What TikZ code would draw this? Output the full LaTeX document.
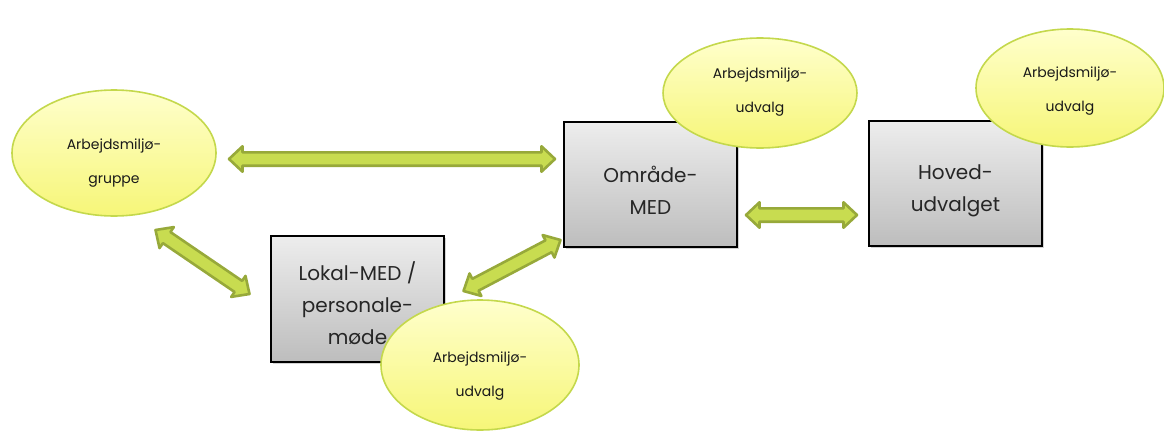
\documentclass[tikz,border=0pt]{standalone}
\usepackage{fontspec}
\setmainfont{Poppins}
\usetikzlibrary{shapes.geometric,shadows,calc}
\definecolor{arrfill}{HTML}{C8DC50}
\definecolor{arrdraw}{HTML}{97A93A}
\definecolor{elldraw}{HTML}{C4D84C}
\definecolor{elltop}{HTML}{FFFFCC}
\definecolor{ellbot}{HTML}{F6F678}
\definecolor{boxtop}{HTML}{EDEDED}
\definecolor{boxbot}{HTML}{BDBDBD}
\newcommand\dblarr[2]{\draw[dblarrow] (#1)
 -- ($(#1)!13.5pt!(#2)!12.7pt!90:(#2)$)
 -- ($(#1)!13.5pt!(#2)!6.7pt!90:(#2)$)
 -- ($(#2)!13.5pt!(#1)!6.7pt!-90:(#1)$)
 -- ($(#2)!13.5pt!(#1)!12.7pt!-90:(#1)$)
 -- (#2)
 -- ($(#2)!13.5pt!(#1)!12.7pt!90:(#1)$)
 -- ($(#2)!13.5pt!(#1)!6.7pt!90:(#1)$)
 -- ($(#1)!13.5pt!(#2)!6.7pt!-90:(#2)$)
 -- ($(#1)!13.5pt!(#2)!12.7pt!-90:(#2)$)
 -- cycle;}
\newcommand\lines[2]{\raisebox{#1}[0pt][0pt]{\begin{tabular}{@{}c@{}}#2\end{tabular}}}
\begin{document}
\begin{tikzpicture}[x=1pt,y=-1pt,
  box/.style={rectangle, draw=black, line width=1.8pt, top color=boxtop, bottom color=boxbot,
    drop shadow={opacity=0.35, shadow xshift=2pt, shadow yshift=-2pt},
    font=\fontsize{20}{32}\selectfont, text=black!85, inner sep=0pt},
  bubble/.style={ellipse, draw=elldraw, line width=1.6pt, top color=elltop, bottom color=ellbot,
    font=\fontsize{14}{34}\selectfont, text=black!90, inner sep=0pt},
  dblarrow/.style={draw=arrdraw, fill=arrfill, line width=2.6pt, line join=round}
]
\useasboundingbox (0,0) rectangle (1164,431);

% boxes
\node[box, minimum width=173pt, minimum height=125pt] (omr) at (650.5,184.5) {\lines{-12.4pt}{Område-\\MED}};
\node[box, minimum width=173pt, minimum height=125pt] (hov) at (955.5,183.5) {\lines{-10.6pt}{Hoved-\\udvalget}};
\node[box, minimum width=173pt, minimum height=126pt] (lok) at (357.5,299) {\lines{-12.6pt}{Lokal-MED /\\personale-\\møde}};

% bubbles
\node[bubble, minimum width=204pt, minimum height=126pt] (amg) at (114,153) {\lines{-10.6pt}{Arbejdsmiljø-\\gruppe}};
\node[bubble, minimum width=194pt, minimum height=110pt] (amo) at (760,93) {\lines{0.9pt}{Arbejdsmiljø-\\udvalg}};
\node[bubble, minimum width=188pt, minimum height=118pt] (amh) at (1070,88) {\lines{-3.1pt}{Arbejdsmiljø-\\udvalg}};
\node[bubble, minimum width=198pt, minimum height=130pt] (aml) at (480,365) {\lines{-11.6pt}{Arbejdsmiljø-\\udvalg}};

% arrow end points
\coordinate (h1) at (229,159);
\coordinate (h2) at (555,159);
\coordinate (m1) at (746,215);
\coordinate (m2) at (857,215);
\coordinate (d1) at (155.5,230);
\coordinate (d2) at (249.5,294);
\coordinate (e1) at (463.5,291);
\coordinate (e2) at (560.5,240);

\dblarr{h1}{h2}
\dblarr{m1}{m2}
\dblarr{d1}{d2}
\dblarr{e1}{e2}
\end{tikzpicture}
\end{document}
